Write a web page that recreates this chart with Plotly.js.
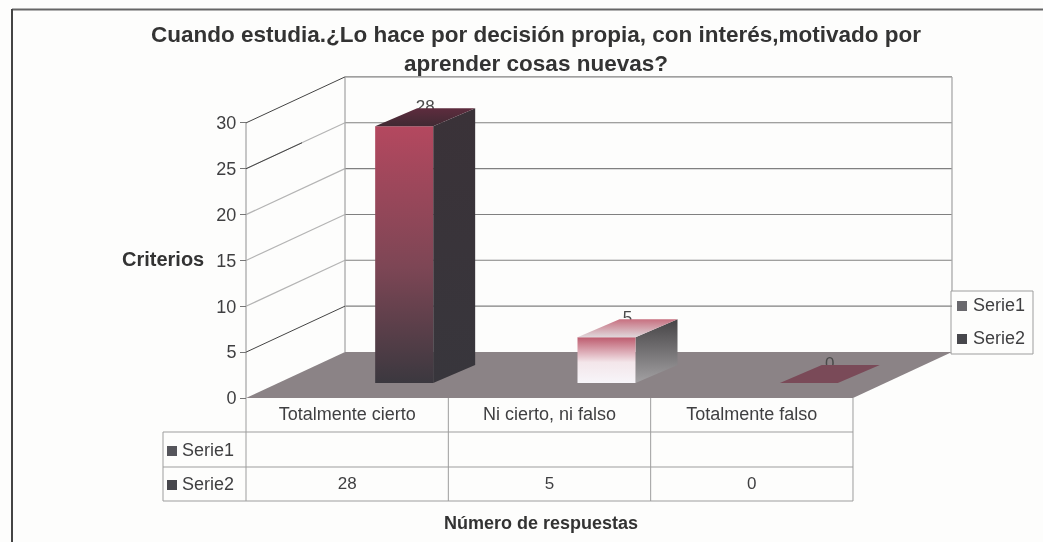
<!DOCTYPE html>
<html>
<head>
<meta charset="utf-8">
<script src="https://cdn.plot.ly/plotly-3.0.1.min.js"></script>
<style>html,body{margin:0;padding:0;background:#fdfdfc}#chart{filter:blur(0.45px)}</style>
</head>
<body>
<div id="chart" style="width:1043px;height:542px"></div>
<script>
const categories = ["Totalmente cierto", "Ni cierto, ni falso", "Totalmente falso"];
const serie1Values = [null, null, null];
const serie2Values = [28, 5, 0];
const seriesNames = ["Serie1", "Serie2"];
const yTicks = [0, 5, 10, 15, 20, 25, 30];
const chartTitle = "Cuando estudia.¿Lo hace por decisión propia, con interés,motivado por<br>aprender cosas nuevas?";
const xTitle = "Número de respuestas";
const yTitle = "Criterios";

const W = 1043, H = 542;
const plotL = 47, plotR = 1035, plotT = 8, plotB = 510;
const x0px = 246, catPx = 202.33, y0px = 398, unitPx = 9.17;
const X = p => (p - x0px) / catPx - 0.5;
const Y = p => (y0px - p) / unitPx;
const dx = p => p / catPx;
const dy = p => p / unitPx;
const paperX = p => (p - plotL) / (plotR - plotL);
const paperY = p => (plotB - p) / (plotB - plotT);

const wallDX = dx(99), wallDY = dy(46);
const barOff = dx(57), barHalf = dx(29), barBase = dy(15), barDX = dx(42), barDY = dy(18);

const TXT = "#3f3f41", GRID = "#a9a9a9", FONT = "Liberation Sans, Arial, sans-serif";
const traces = [];
function poly(xs, ys, fill, extra) {
  traces.push(Object.assign({type: "scatter", mode: "lines", x: xs, y: ys, fill: "toself",
    fillcolor: fill, line: {width: 0}, hoverinfo: "skip"}, extra || {}));
}
function lines(segs, color, width) {
  const xs = [], ys = [];
  segs.forEach(s => { xs.push(s[0], s[2], null); ys.push(s[1], s[3], null); });
  traces.push({type: "scatter", mode: "lines", x: xs, y: ys, line: {color: color, width: width}, hoverinfo: "skip"});
}
// stops are listed top to bottom of the face
function grad(stops) {
  return {type: "vertical", colorscale: stops.map(s => [1 - s[0], s[1]]).reverse()};
}

// walls / gridlines
const xL = -0.5, xR = 2.5;
const wallRightTop = 291;
const leftWall = [], backWall = [];
yTicks.forEach(v => {
  if (v === 0) return;
  if (v !== 30 && v !== 5) leftWall.push([xL, v, xL + wallDX, v + wallDY]);
  backWall.push([xL + wallDX, v + wallDY, xR + wallDX, v + wallDY]);
});
lines(leftWall, "#b4b4b4", 1.2);
lines(backWall, "#808080", 1.1);
lines([[xL + wallDX, wallDY, xL + wallDX, 30 + wallDY],
       [xL, 0, xL, 30],
       [xR + wallDX, 30 + wallDY, xR + wallDX, Y(wallRightTop)]], GRID, 1.3);
lines([[xL, 30, xL + wallDX, 30 + wallDY], [xL, 5, xL + wallDX, 5 + wallDY], [xL, 25, xL + dx(56), 25 + dy(26)]], "#444", 1);

// floor
poly([xL, xR, xR + wallDX, xL + wallDX, xL], [0, 0, wallDY, wallDY, 0], "#8b8386");

// data labels (drawn before bars so the bar tops cover them)
traces.push({type: "scatter", mode: "text",
  x: categories.map((c, i) => i + barOff + barHalf + dx(-8)),
  y: serie2Values.map(v => v + barBase + barDY + dy(0)),
  text: serie2Values.map(String), textposition: "middle center",
  textfont: {family: FONT, size: 17, color: "#4a4a4a"}, hoverinfo: "skip"});

// bars
const fronts = [
  [[0, "#b4485f"], [0.55, "#7d4655"], [1, "#3b383f"]],
  [[0, "#bd5a6d"], [0.55, "#f3e6ea"], [1, "#f7f5f9"]],
  [[0, "#7a4a58"], [1, "#7a4a58"]]
];
const sides = [
  [[0, "#3a3238"], [1, "#38363c"]],
  [[0, "#454345"], [1, "#a3a1a3"]],
  [[0, "#7a4a58"], [1, "#7a4a58"]]
];
const tops = [
  [[0, "#5e2c3e"], [1, "#402a33"]],
  [[0, "#c76f7f"], [1, "#dfd6da"]],
  [[0, "#7a4a58"], [1, "#7a4a58"]]
];
serie2Values.forEach((v, i) => {
  const a = i + barOff - barHalf, b = i + barOff + barHalf;
  const y0 = barBase, y1 = barBase + v;
  if (v > 0) {
    poly([b, b + barDX, b + barDX, b, b], [y0, y0 + barDY, y1 + barDY, y1, y0], "#333", {fillgradient: grad(sides[i]), fillcolor: undefined});
    poly([a, b, b, a, a], [y0, y0, y1, y1, y0], "#888", {fillgradient: grad(fronts[i]), fillcolor: undefined});
  }
  poly([a, b, b + barDX, a + barDX, a], [y1, y1, y1 + barDY, y1 + barDY, y1], "#555", {fillgradient: grad(tops[i]), fillcolor: undefined});
});

// data table
const rowY = [Y(432), Y(467), Y(501)], tableL = X(163);
const tableSegs = [];
[0, 1, 2, 3].forEach(k => tableSegs.push([xL + k, 0, xL + k, rowY[2]]));
tableSegs.push([tableL, rowY[0], tableL, rowY[2]]);
rowY.forEach(r => tableSegs.push([tableL, r, xR, r]));
lines(tableSegs, "#9d9d9d", 1);
const row1Y = Y(451), row2Y = Y(485);
traces.push({type: "scatter", mode: "text", x: categories.map((c, i) => i),
  y: serie2Values.map(() => row2Y), text: serie2Values.map(String),
  textfont: {family: FONT, size: 17, color: TXT}, hoverinfo: "skip"});
const keyColors = ["#55555b", "#47474c"];
traces.push({type: "scatter", mode: "markers", x: [X(172), X(172), X(962), X(962)],
  y: [row1Y, row2Y, Y(306), Y(339)],
  marker: {symbol: "square", size: 10, color: [keyColors[0], keyColors[1], "#69686d", keyColors[1]]},
  hoverinfo: "skip"});
traces.push({type: "scatter", mode: "text", x: [X(182), X(182), X(973), X(973)],
  y: [row1Y, row2Y, Y(306), Y(339)],
  text: [seriesNames[0], seriesNames[1], seriesNames[0], seriesNames[1]], textposition: "middle right",
  textfont: {family: FONT, size: 18, color: TXT}, hoverinfo: "skip"});
// legend box
const lbL = X(951), lbR = X(1033), lbT = Y(291), lbB = Y(354);
lines([[lbL, lbT, lbR, lbT], [lbR, lbT, lbR, lbB], [lbR, lbB, lbL, lbB], [lbL, lbB, lbL, lbT]], "#9d9d9d", 1);

const layout = {
  width: W, height: H,
  paper_bgcolor: "#fdfdfc", plot_bgcolor: "rgba(0,0,0,0)",
  showlegend: false,
  margin: {l: plotL, r: W - plotR, t: plotT, b: H - plotB, pad: 0},
  font: {family: FONT, color: TXT},
  title: {text: "<b>" + chartTitle.replace("<br>", "</b><br><b>") + "</b>", x: 536 / W, xanchor: "center", y: 1 - 42 / H, yanchor: "top",
    font: {family: FONT, size: 22.5, color: "#333"}},
  xaxis: {range: [X(plotL), X(plotR)], anchor: "free", position: paperY(y0px),
    tickmode: "array", tickvals: categories.map((c, i) => i), ticktext: categories,
    ticks: "", showgrid: false, zeroline: false, showline: false, ticklabelstandoff: 3,
    tickfont: {family: FONT, size: 18, color: TXT},
    title: {text: "<b>" + xTitle + "</b>", font: {family: FONT, size: 18, color: "#333"}, standoff: 93}},
  yaxis: {range: [Y(plotB), Y(plotT)], anchor: "free", position: paperX(x0px),
    tickmode: "array", tickvals: yTicks, ticks: "outside", ticklen: 6, tickcolor: "#777",
    showgrid: false, zeroline: false, showline: false,
    tickfont: {family: FONT, size: 18, color: TXT}},
  annotations: [{text: "<b>" + yTitle + "</b>", xref: "paper", yref: "paper", x: paperX(163), y: paperY(259),
    xanchor: "center", yanchor: "middle", showarrow: false, font: {family: FONT, size: 20, color: "#333"}}],
  shapes: [
    {type: "line", xref: "paper", yref: "paper", x0: paperX(12), x1: paperX(1043), y0: paperY(9.5), y1: paperY(9.5),
      line: {color: "#666", width: 2}},
    {type: "line", xref: "paper", yref: "paper", x0: paperX(12), x1: paperX(12), y0: paperY(9), y1: paperY(542),
      line: {color: "#444", width: 2}}
  ]
};
Plotly.newPlot("chart", traces, layout, {displayModeBar: false, responsive: false});
</script>
</body>
</html>
